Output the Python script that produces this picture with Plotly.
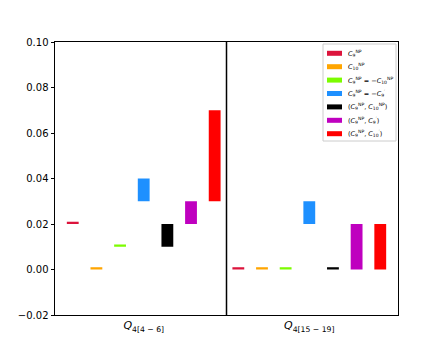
import plotly.graph_objects as go

# ----------------------------
# DATA
# ----------------------------
scenarios = [
    "<i>C</i><sub>9</sub><sup>NP</sup>",
    "<i>C</i><sub>10</sub><sup>NP</sup>",
    "<i>C</i><sub>9</sub><sup>NP</sup> = −<i>C</i><sub>10</sub><sup>NP</sup>",
    "<i>C</i><sub>9</sub><sup>NP</sup> = −<i>C</i><sub>9</sub><sup>′</sup>",
    "(<i>C</i><sub>9</sub><sup>NP</sup>, <i>C</i><sub>10</sub><sup>NP</sup>)",
    "(<i>C</i><sub>9</sub><sup>NP</sup>, <i>C</i><sub>9</sub><sup>′</sup>)",
    "(<i>C</i><sub>9</sub><sup>NP</sup>, <i>C</i><sub>10</sub><sup>′</sup>)",
]
colors = ["#DC143C", "#FFA500", "#7CFC00", "#1E90FF", "#000000", "#BF00BF", "#FF0000"]

bins = ["<i>Q</i><sub>4[4 − 6]</sub>", "<i>Q</i><sub>4[15 − 19]</sub>"]

# lower / upper edge of each range, per scenario, per bin
low_bin1 = [0.020, 0.000, 0.010, 0.030, 0.010, 0.020, 0.030]
high_bin1 = [0.021, 0.001, 0.011, 0.040, 0.020, 0.030, 0.070]
low_bin2 = [0.000, 0.000, 0.000, 0.020, 0.000, 0.000, 0.000]
high_bin2 = [0.001, 0.001, 0.001, 0.030, 0.001, 0.020, 0.020]

y_ticks = [-0.02, 0.00, 0.02, 0.04, 0.06, 0.08, 0.10]

# ----------------------------
# FIGURE
# ----------------------------
# page body adds ~8px around the figure, so shrink it to fit the window
W, H = 435, 346
ML, MR, MT, MB = 47, 45, 34, 39
PW, PH = W - ML - MR, H - MT - MB
OFF = 8  # body offset, used to place legend in window pixels


def px_x(x):
    return (x - OFF - ML) / PW


def px_y(y):
    return (H - MB - (y - OFF)) / PH


n = len(scenarios)
fig = go.Figure()

for i in range(n):
    xs = [i, n + i]
    lows = [low_bin1[i], low_bin2[i]]
    highs = [high_bin1[i], high_bin2[i]]
    fig.add_trace(go.Bar(
        x=xs,
        y=[h - l for h, l in zip(highs, lows)],
        base=lows,
        width=0.5,
        name=scenarios[i],
        showlegend=False,
        marker=dict(color=colors[i], line=dict(width=0)),
    ))

# separator between the two bins
fig.add_shape(
    type="line", xref="x", yref="paper",
    x0=n - 0.5, x1=n - 0.5, y0=0, y1=1,
    line=dict(color="black", width=1.5),
)

# legend box (drawn by hand to get matplotlib-like compact spacing)
fig.add_shape(
    type="rect", xref="paper", yref="paper",
    x0=px_x(323), x1=px_x(396), y0=px_y(141), y1=px_y(44),
    line=dict(color="#cccccc", width=1), fillcolor="white",
)
for i in range(n):
    yc = 53.3 + i * 13.4
    fig.add_shape(
        type="rect", xref="paper", yref="paper",
        x0=px_x(327), x1=px_x(342), y0=px_y(yc + 2.5), y1=px_y(yc - 2.5),
        line=dict(width=0), fillcolor=colors[i],
    )
    fig.add_annotation(
        xref="paper", yref="paper",
        x=px_x(346), y=px_y(yc),
        xanchor="left", yanchor="middle",
        text=scenarios[i], showarrow=False,
        font=dict(size=6.5),
    )

fig.update_layout(
    width=W,
    height=H,
    margin=dict(l=ML, r=MR, t=MT, b=MB),
    plot_bgcolor="white",
    paper_bgcolor="white",
    font=dict(family="DejaVu Sans", color="black", size=10),
    barmode="overlay",
    showlegend=False,
    xaxis=dict(
        range=[-0.75, 2 * n - 0.25],
        tickvals=[(n - 1) / 2, n + (n - 1) / 2],
        ticktext=bins,
        tickfont=dict(size=11),
        showgrid=False, zeroline=False,
        showline=True, linecolor="black", linewidth=1, mirror=True,
        ticks="",
        automargin=False,
    ),
    yaxis=dict(
        range=[-0.02, 0.10],
        tickvals=y_ticks,
        tickformat=".2f",
        showgrid=False, zeroline=False,
        showline=True, linecolor="black", linewidth=1, mirror=True,
        ticks="outside", ticklen=3.5, tickcolor="black",
        automargin=False,
    ),
)

fig.write_html("out.html")
